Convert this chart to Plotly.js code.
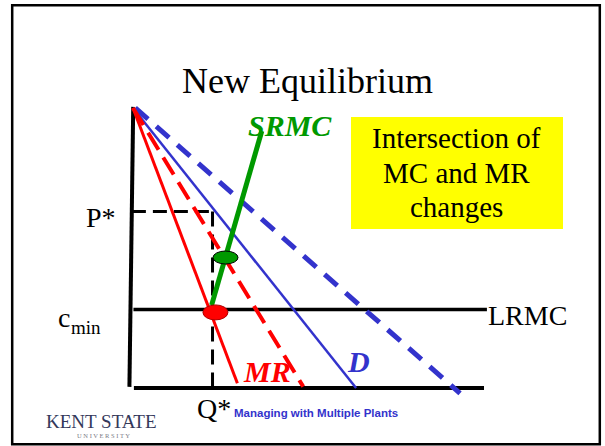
<!DOCTYPE html>
<html>
<head>
<meta charset="utf-8">
<script src="https://cdn.plot.ly/plotly-3.0.1.min.js"></script>
<style>html,body{margin:0;padding:0;background:#fff;}#chart{width:605px;height:446px;}</style>
</head>
<body>
<div id="chart"></div>
<script>
// ---- data (economic units: Q on x, P on y) ----
const vAxisQ = [-0.16, 0.01];
const vAxisP = [0.04, 10.04];
const hAxisQ = [0.04, 15.67];
const hAxisP = [0, 0];
const mrQ = [0, 4.66];
const mrP = [10, 0.17];
const mrNewQ = [0, 7.6];
const mrNewP = [10, 0.05];
const dQ = [0, 9.96];
const dP = [10, 0];
const dNewQ = [0.1, 14.6];
const dNewP = [10, -0.19];
const srmcQ = [3.51, 5.75];
const srmcP = [2.96, 9.18];
const lrmcQ = [0.02, 15.8];
const cMin = 2.8;
const pStar = 6.3;
const qStar = 3.55;
const newEqQ = 4.13, newEqP = 4.66;
const oldEqQ = 3.68, oldEqP = 2.70;
const labels = ["SRMC", "MR", "D", "LRMC", "P*", "Q*"];
const boxLines = ["Intersection of", "MC and MR", "changes"];

// ---- layout helpers ----
const W = 605, H = 446;
const pxX = x => x / W;
const pxY = y => 1 - y / H;
const SERIF = "Liberation Serif, Times New Roman, serif";

const traces = [
  {x: vAxisQ, y: vAxisP, line: {color: "#000", width: 4}},
  {x: hAxisQ, y: hAxisP, line: {color: "#000", width: 4}},
  {x: lrmcQ, y: [cMin, cMin], line: {color: "#000", width: 3.5}},
  {x: [-0.05, qStar], y: [pStar, pStar], line: {color: "#000", width: 3, dash: "14px,7px"}},
  {x: [qStar, qStar], y: [pStar, 0], line: {color: "#000", width: 3, dash: "15px,8px"}},
  {x: dNewQ, y: dNewP, line: {color: "#3333cc", width: 5, dash: "17px,11px"}},
  {x: dQ, y: dP, line: {color: "#3333cc", width: 2.5}},
  {x: mrNewQ, y: mrNewP, line: {color: "#ff0000", width: 4, dash: "20px,9px"}},
  {x: mrQ, y: mrP, line: {color: "#ff0000", width: 3}},
  {x: srmcQ, y: srmcP, line: {color: "#009900", width: 5}}
].map(t => Object.assign({type: "scatter", mode: "lines", hoverinfo: "skip", cliponaxis: false}, t));

const shapes = [
  {type: "rect", xref: "paper", yref: "paper", x0: pxX(12.2), x1: pxX(599.8), y0: pxY(5.3), y1: pxY(444.3),
   line: {color: "#000", width: 2.5}, fillcolor: "rgba(0,0,0,0)"},
  {type: "rect", xref: "paper", yref: "paper", x0: pxX(351), x1: pxX(563), y0: pxY(117), y1: pxY(229),
   line: {width: 0}, fillcolor: "#ffff00", layer: "below"},
  {type: "circle", xref: "x", yref: "y", xsizemode: "pixel", ysizemode: "pixel",
   xanchor: newEqQ, yanchor: newEqP, x0: -12.5, x1: 12.5, y0: -6.5, y1: 6.5,
   fillcolor: "#009900", line: {color: "#000", width: 1}},
  {type: "circle", xref: "x", yref: "y", xsizemode: "pixel", ysizemode: "pixel",
   xanchor: oldEqQ, yanchor: oldEqP, x0: -12.5, x1: 12.5, y0: -7.5, y1: 7.5,
   fillcolor: "#ff0000", line: {color: "#b00000", width: 1}}
];

function ann(text, x, y, size, color, xanchor, extra) {
  return Object.assign({text: text, xref: "paper", yref: "paper", x: pxX(x), y: pxY(y),
    xanchor: xanchor || "center", yanchor: "middle", showarrow: false,
    font: {family: SERIF, size: size, color: color || "#000"}}, extra || {});
}

const annotations = [
  ann("New Equilibrium", 307.5, 81, 36),
  ann("<b><i>" + labels[0] + "</i></b>", 290, 125, 30, "#009900"),
  ann("<b><i>" + labels[1] + "</i></b>", 266.5, 371, 30, "#ff0000"),
  ann("<b><i>" + labels[2] + "</i></b>", 358.5, 361, 30, "#3333cc"),
  ann(labels[3], 486, 315, 28, "#000", "left"),
  ann(labels[4], 101, 217.5, 28),
  ann("c", 64, 317.5, 28),
  ann("min", 68.5, 327, 19, "#000", "left"),
  ann(labels[5], 213.5, 408.5, 28),
  ann("Managing with Multiple Plants", 232, 413, 11.5, "#3333cc", "left",
      {font: {family: "Liberation Sans, Arial, sans-serif", size: 11.5, color: "#3333cc", weight: 700}}),
  ann(boxLines[0], 457, 138, 29),
  ann(boxLines[1], 457, 173, 29),
  ann(boxLines[2], 457, 207, 29),
  ann("KENT STATE", 102, 421, 19, "#34385a"),
  ann("U N I V E R S I T Y", 103, 435, 6.5, "#7a7a86")
];

const layout = {
  width: W, height: H,
  margin: {l: 0, r: 0, t: 0, b: 0},
  paper_bgcolor: "#fff", plot_bgcolor: "#fff",
  showlegend: false,
  xaxis: {range: [-133 / 22.4, 472 / 22.4], visible: false, fixedrange: true},
  yaxis: {range: [-58 / 28, 388 / 28], visible: false, fixedrange: true},
  shapes: shapes,
  annotations: annotations
};

Plotly.newPlot("chart", traces, layout, {displayModeBar: false, staticPlot: true});
</script>
</body>
</html>
